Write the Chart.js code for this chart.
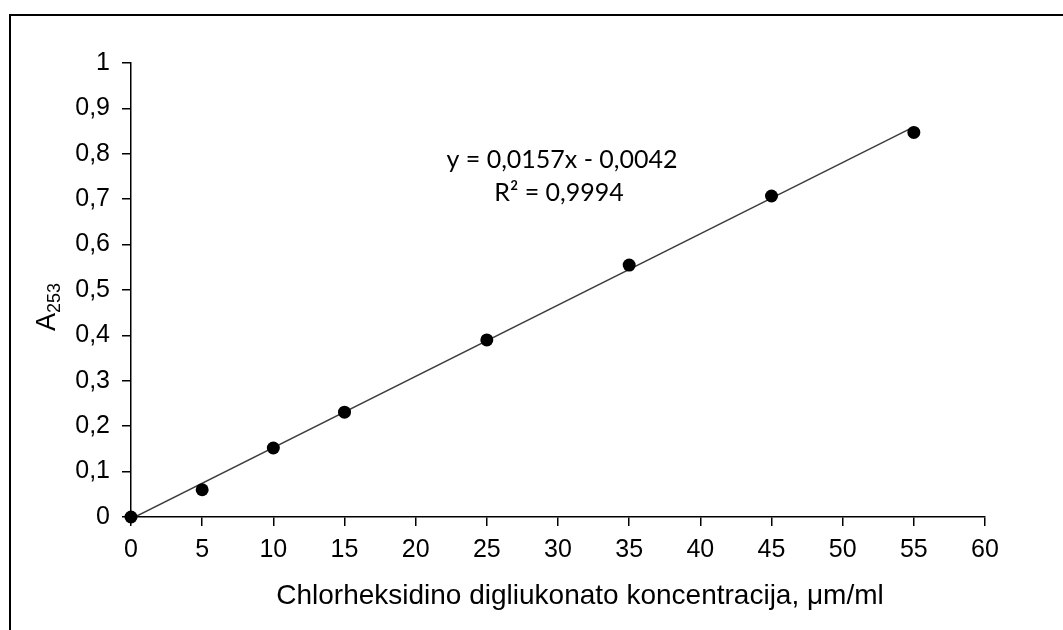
<!DOCTYPE html>
<html>
<head>
<meta charset="utf-8">
<script src="https://cdn.jsdelivr.net/npm/chart.js@4/dist/chart.umd.min.js"></script>
<style>
  html, body { margin: 0; padding: 0; background: #fff; }
</style>
</head>
<body>
<canvas id="myChart" width="1063" height="630"></canvas>
<script>
const concentrations = [0, 5, 10, 15, 25, 35, 45, 55];
const absorbance = [0, 0.06, 0.152, 0.231, 0.39, 0.555, 0.707, 0.847];
const trendX = [0, 55];
const trendY = [-0.0042, 0.8593];
const equationLines = ['y = 0,0157x - 0,0042', 'R² = 0,9994'];
const xTitle = 'Chlorheksidino digliukonato koncentracija, μm/ml';
const yTitleMain = 'A';
const yTitleSub = '253';

const FONT = '"Liberation Sans", Arial, sans-serif';

const frame = {
    id: 'frame',
    beforeDraw(chart) {
        const ctx = chart.ctx;
        ctx.save();
        ctx.fillStyle = '#fff';
        ctx.fillRect(0, 0, chart.width, chart.height);
        ctx.strokeStyle = '#000';
        ctx.lineWidth = 2;
        ctx.beginPath();
        ctx.moveTo(10, chart.height);
        ctx.lineTo(10, 15);
        ctx.lineTo(chart.width, 15);
        ctx.stroke();
        ctx.restore();
    }
}

const labels = {
    id: 'labels',
    afterDraw(chart) {
        const ctx = chart.ctx;
        ctx.save();
        ctx.fillStyle = '#000';

        // x axis title
        ctx.font = '28px ' + FONT;
        ctx.textAlign = 'center';
        ctx.textBaseline = 'alphabetic';
        ctx.fillText(xTitle, 580, 604);

        // y axis title with subscript
        ctx.translate(55, 307);
        ctx.rotate(-Math.PI / 2);
        ctx.textAlign = 'left';
        ctx.font = '27px ' + FONT;
        const wA = ctx.measureText(yTitleMain).width;
        ctx.font = '18px ' + FONT;
        const wS = ctx.measureText(yTitleSub).width;
        const start = -(wA + wS) / 2;
        ctx.font = '27px ' + FONT;
        ctx.fillText(yTitleMain, start, 0);
        ctx.font = '18px ' + FONT;
        ctx.fillText(yTitleSub, start + wA, 5);
        ctx.restore();

        // regression equation
        ctx.save();
        ctx.fillStyle = '#000';
        ctx.font = '25px Lato, "Open Sans", sans-serif';
        ctx.textAlign = 'center';
        ctx.textBaseline = 'middle';
        ctx.fillText(equationLines[0], 562, 160);
        ctx.fillText(equationLines[1], 559, 193);
        ctx.restore();
    }
}

const fmt = v => String(Math.round(v * 10) / 10).replace('.', ',');

const data = {
    datasets: [{
        type: 'scatter',
        label: 'Matavimai',
        data: concentrations.map((x, i) => ({ x: x, y: absorbance[i] })),
        pointRadius: 6.5,
        pointHoverRadius: 6.5,
        backgroundColor: '#000',
        borderWidth: 0,
        clip: false,
        order: 1
    }, {
        type: 'line',
        label: 'Tiesė',
        data: trendX.map((x, i) => ({ x: x, y: trendY[i] })),
        borderColor: '#3c3c3c',
        borderWidth: 1.5,
        pointRadius: 0,
        fill: false,
        order: 2
    }]
};

const config = {
    data: data,
    options: {
        responsive: false,
        animation: false,
        devicePixelRatio: 1,
        layout: { padding: { left: 0, top: 63, right: 78, bottom: 0 } },
        plugins: {
            legend: { display: false },
            tooltip: { enabled: false }
        },
        scales: {
            x: {
                type: 'linear',
                min: 0,
                max: 60,
                afterFit(scale) { scale.height = 113; },
                border: { color: '#000', width: 1.5 },
                grid: { drawOnChartArea: false, drawTicks: true, tickLength: 9, color: '#000', lineWidth: 1.5 },
                ticks: {
                    stepSize: 5,
                    padding: 9,
                    color: '#000',
                    font: { family: FONT, size: 25 },
                    callback: v => fmt(v)
                }
            },
            y: {
                type: 'linear',
                min: 0,
                max: 1,
                afterFit(scale) { scale.width = 131; },
                border: { color: '#000', width: 1.5 },
                grid: { drawOnChartArea: false, drawTicks: true, tickLength: 9, color: '#000', lineWidth: 1.5 },
                ticks: {
                    stepSize: 0.1,
                    padding: 12,
                    color: '#000',
                    font: { family: FONT, size: 25 },
                    callback: v => fmt(v)
                }
            }
        }
    },
    plugins: [frame, labels]
};

new Chart(document.getElementById('myChart'), config);
</script>
</body>
</html>
